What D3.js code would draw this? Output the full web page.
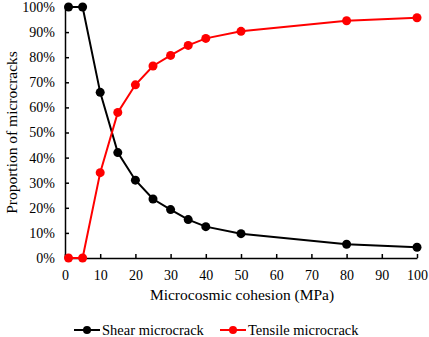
<!DOCTYPE html>
<html><head><meta charset="utf-8">
<script src="https://cdn.jsdelivr.net/npm/d3@7"></script>
<style>body{margin:0;background:#fff}svg{display:block}</style>
</head><body>
<svg id="c" width="429" height="337"></svg>
<script>
const cohesion = [1, 5, 10, 15, 20, 25, 30, 35, 40, 50, 80, 100];
const shear = [100, 100, 66, 42, 31, 23.5, 19.3, 15.3, 12.5, 9.7, 5.5, 4.3];
const tensile = [0, 0, 34, 58, 69, 76.5, 80.7, 84.7, 87.5, 90.3, 94.5, 95.7];
const xTicks = [0, 10, 20, 30, 40, 50, 60, 70, 80, 90, 100];
const yTicks = [0, 10, 20, 30, 40, 50, 60, 70, 80, 90, 100];
const seriesNames = ["Shear microcrack", "Tensile microcrack"];
const seriesColors = ["#000000", "#ff0000"];
const FONT = "'Liberation Serif', 'Times New Roman', Tinos, serif";

const svg = d3.select("#c");
const x = d3.scaleLinear().domain([0, 100]).range([65, 417]);
const y = d3.scaleLinear().domain([0, 100]).range([258, 7]);

const xAxis = d3.axisBottom(x).tickValues(xTicks).tickSizeInner(-4).tickSizeOuter(0).tickPadding(9);
const gx = svg.append("g").attr("transform", `translate(0,${y(0)})`).call(xAxis);
const yAxis = d3.axisLeft(y).tickValues(yTicks).tickSizeInner(-4).tickSizeOuter(0).tickPadding(10).tickFormat(d => d + "%");
const gy = svg.append("g").attr("transform", `translate(${x(0)},0)`).call(yAxis);
[gx, gy].forEach(g => {
  g.attr("font-family", FONT).attr("font-size", 14);
  g.selectAll("path,line").attr("stroke", "#000").attr("stroke-width", 1.5);
  g.selectAll("text").attr("font-family", FONT).attr("font-size", 14).attr("fill", "#000");
});
gx.selectAll("text").attr("dy", "0.9em");

const data = [shear, tensile];
const line = d3.line().x((d, i) => x(cohesion[i])).y(d => y(d));
data.forEach((vals, k) => {
  svg.append("path").datum(vals).attr("d", line).attr("fill", "none")
    .attr("stroke", seriesColors[k]).attr("stroke-width", 2);
  svg.selectAll(null).data(vals).enter().append("circle")
    .attr("cx", (d, i) => x(cohesion[i])).attr("cy", d => y(d)).attr("r", 4.5)
    .attr("fill", seriesColors[k]);
});

svg.append("text").attr("x", (x(0) + x(100)) / 2 + 1).attr("y", 300).attr("text-anchor", "middle")
  .attr("font-family", FONT).attr("font-size", 15.5).text("Microcosmic cohesion (MPa)");
svg.append("text").attr("transform", `translate(17,${(y(0) + y(100)) / 2}) rotate(-90)`)
  .attr("text-anchor", "middle").attr("font-family", FONT).attr("font-size", 15.5).text("Proportion of microcracks");

const legX = [74, 220];
seriesNames.forEach((n, k) => {
  const g = svg.append("g").attr("transform", `translate(${legX[k]},330)`);
  g.append("line").attr("x1", 0).attr("x2", 26).attr("stroke", seriesColors[k]).attr("stroke-width", 2);
  g.append("circle").attr("cx", 13).attr("r", 4).attr("fill", seriesColors[k]);
  g.append("text").attr("x", 28).attr("dy", "0.32em").attr("font-family", FONT).attr("font-size", 14.5).text(n);
});
</script>
</body></html>
